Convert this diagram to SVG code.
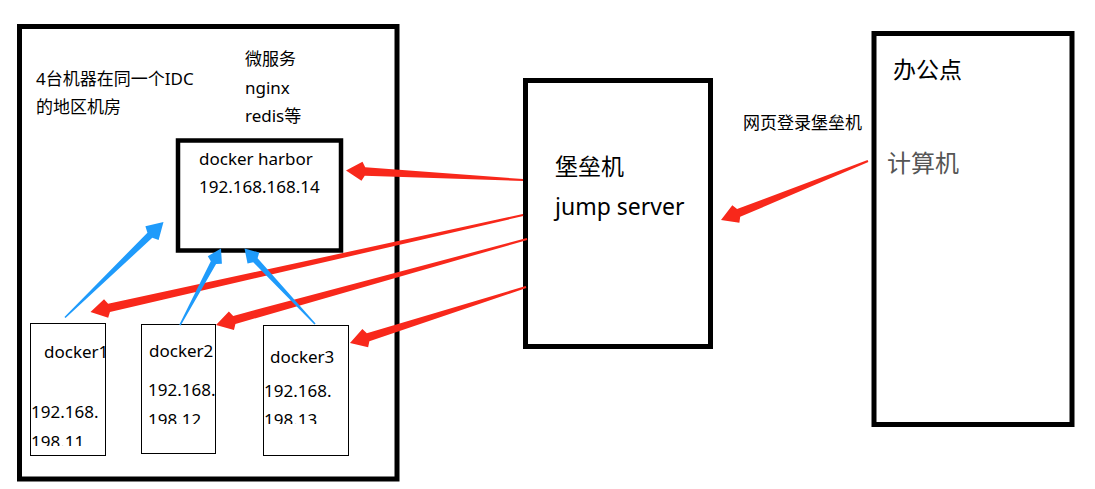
<svg xmlns="http://www.w3.org/2000/svg" width="1095" height="489" viewBox="0 0 1095 489">
<style>
.thick{fill:none;stroke:#000;stroke-width:5}
.mid{fill:none;stroke:#000;stroke-width:4.5}
.thin{fill:none;stroke:#000;stroke-width:1}
text{font-family:"Noto Sans","Noto Sans CJK SC",sans-serif;fill:#000}
.t17{font-size:17px}
.t23{font-size:23px}
.red{fill:#f8281b}
.blue{fill:#1f9bfb}
</style>
<defs>
<clipPath id="c1"><rect x="30" y="323" width="77" height="123"/></clipPath>
<clipPath id="c2"><rect x="141" y="324" width="75" height="100"/></clipPath>
<clipPath id="c3"><rect x="263" y="325" width="86" height="99"/></clipPath>
</defs>
<rect width="1095" height="489" fill="#fff"/>
<g id="idc">
<rect class="thick" x="19.5" y="26.5" width="377.5" height="452.5"/>
<text class="t17" x="36" y="85">4台机器在同一个IDC</text>
<text class="t17" x="36" y="113">的地区机房</text>
<text class="t17" x="245" y="64.5">微服务</text>
<text class="t17" x="245" y="94">nginx</text>
<text class="t17" x="245" y="122">redis等</text>
</g>
<g id="harbor">
<rect class="mid" x="178" y="140.5" width="163" height="110"/>
<text class="t17" x="199" y="165">docker harbor</text>
<text class="t17" x="199" y="193">192.168.168.14</text>
</g>
<g id="docker1">
<rect class="thin" x="30.5" y="323.5" width="75" height="132"/>
<g clip-path="url(#c1)">
<text class="t17" x="44" y="357.5">docker1</text>
<text class="t17" x="31" y="418">192.168.</text>
<text class="t17" x="31" y="447.5">198.11</text>
</g>
</g>
<g id="docker2">
<rect class="thin" x="141.5" y="324.5" width="74" height="129"/>
<g clip-path="url(#c2)">
<text class="t17" x="149" y="357">docker2</text>
<text class="t17" x="148" y="396">192.168.</text>
<text class="t17" x="148" y="425.5">198.12</text>
</g>
</g>
<g id="docker3">
<rect class="thin" x="263.5" y="325.5" width="85" height="130"/>
<g clip-path="url(#c3)">
<text class="t17" x="270" y="363">docker3</text>
<text class="t17" x="264" y="396.5">192.168.</text>
<text class="t17" x="264" y="425.5">198.13</text>
</g>
</g>
<g id="jumpserver">
<rect class="thick" x="525.5" y="80.5" width="185" height="266"/>
<text class="t23" x="555" y="175">堡垒机</text>
<text class="t23" x="555" y="215">jump server</text>
</g>
<g id="office">
<rect class="thick" x="874" y="33.5" width="198" height="391"/>
<text class="t23" x="893" y="78">办公点</text>
<text x="887" y="172" style="font-size:24px;fill:#555">计算机</text>
</g>
<g id="label-web">
<text class="t17" x="743" y="129">网页登录堡垒机</text>
</g>
<g id="connectors">
<polygon class="red" transform="translate(346,170.5) rotate(3.07)" points="0,0 16,-9.5 19,-4.2 177.3,-1 177.3,1 19,4.2 16,9.5"/>
<polygon class="red" transform="translate(90.5,312) rotate(-12.63)" points="0,0 16,-9.5 19,-4.2 443.3,-1 443.3,1 19,4.2 16,9.5"/>
<polygon class="red" transform="translate(216,325) rotate(-15.46)" points="0,0 16,-9.5 19,-4.2 322.7,-1 322.7,1 19,4.2 16,9.5"/>
<polygon class="red" transform="translate(350,343) rotate(-17.65)" points="0,0 16,-9.5 19,-4.2 184.7,-1 184.7,1 19,4.2 16,9.5"/>
<polygon class="red" transform="translate(721,220) rotate(-21.87)" points="0,0 16,-9.5 19,-4.2 158.4,-1 158.4,1 19,4.2 16,9.5"/>
<polygon class="blue" transform="translate(163.5,222) rotate(135.89)" points="0,0 16,-9.5 19,-3.5 137.2,-0.8 137.2,0.8 19,3.5 16,9.5"/>
<polygon class="blue" transform="translate(221,248.5) rotate(118.19)" points="0,0 13,-8 16,-3 86.8,-0.8 86.8,0.8 16,3 13,8"/>
<polygon class="blue" transform="translate(244.5,248.5) rotate(46.96)" points="0,0 13,-8 16,-3 103.3,-0.8 103.3,0.8 16,3 13,8"/>
</g>
</svg>
